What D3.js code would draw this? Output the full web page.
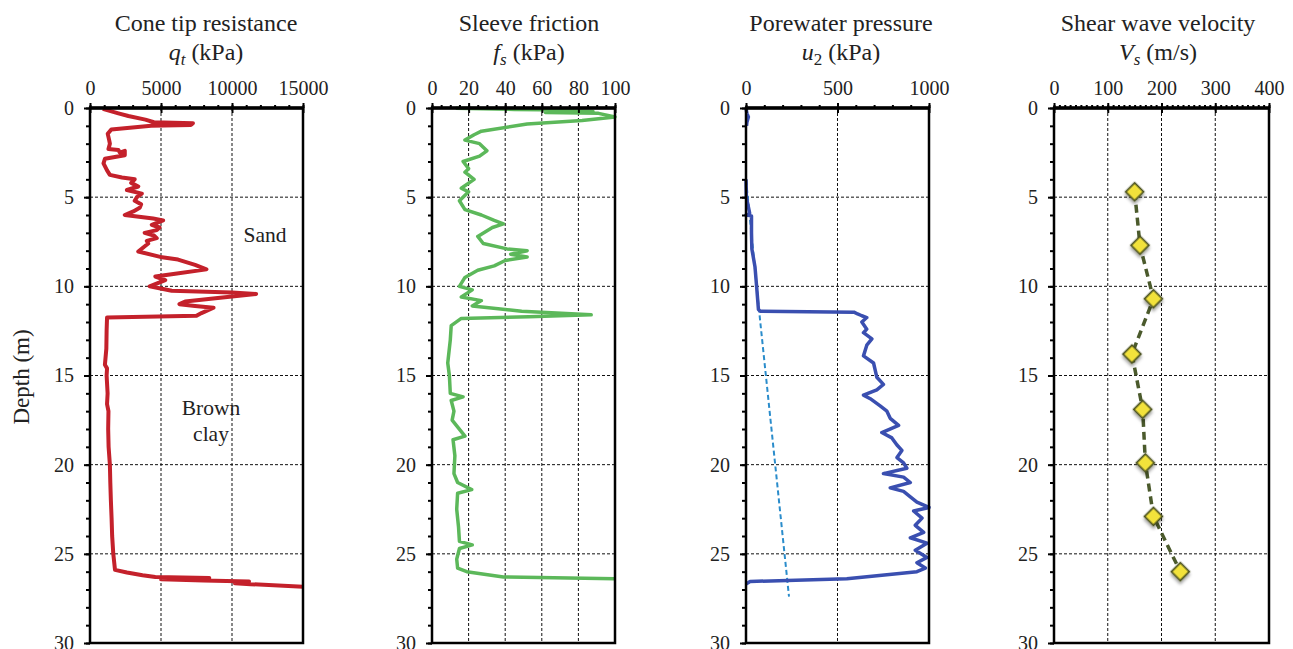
<!DOCTYPE html>
<html>
<head>
<meta charset="utf-8">
<script src="https://cdn.jsdelivr.net/npm/d3@7"></script>
<style>
  body { margin: 0; background: #fff; }
  svg { display: block; font-family: "Liberation Serif", "Times New Roman", serif; }
  .grid line { stroke: #111; stroke-width: 1; stroke-dasharray: 3,2; }
  .axis path, .axis line { stroke: #000; }
  .axis text { font-family: "Liberation Serif", "Times New Roman", serif; font-size: 20px; fill: #222; }
</style>
</head>
<body>
<svg id="chart" width="1293" height="649"></svg>
<script>
"use strict";

// depth (m), value pairs
var qtProfile = [
  [0.05, 900], [0.3, 2000], [0.45, 2700], [0.65, 3900], [0.8, 4500], [0.85, 7250], [0.95, 7100],
  [1.0, 4300], [1.2, 1500], [1.45, 1250], [1.8, 1350], [2.0, 1400], [2.3, 1300], [2.35, 2000],
  [2.5, 2100], [2.4, 2450], [2.65, 2450], [2.85, 1050], [3.1, 950], [3.5, 1200], [3.75, 1400],
  [3.9, 2250], [4.0, 3150], [4.2, 2900], [4.4, 3400], [4.6, 2600], [4.8, 3650], [5.0, 3300],
  [5.2, 3150], [5.4, 3600], [5.6, 3500], [5.8, 3050], [6.0, 2450], [6.2, 4450], [6.3, 5150],
  [6.55, 4350], [6.7, 4900], [6.85, 4700], [7.0, 3850], [7.15, 4500], [7.3, 4700], [7.45, 4000],
  [7.6, 4100], [8.05, 3400], [8.35, 4950], [8.5, 6200], [8.8, 7400], [9.05, 8200],
  [9.3, 6000], [9.45, 4600], [9.65, 5300], [10.0, 4200], [10.25, 5750], [10.35, 10000],
  [10.43, 11700], [10.65, 9000], [10.85, 6700], [11.0, 6300], [11.1, 7400], [11.2, 8700],
  [11.5, 7850], [11.65, 7500], [11.75, 1200], [12.5, 1170], [13.5, 1150], [14.4, 1050],
  [14.6, 1200], [15.0, 1170], [16.0, 1240], [16.6, 1200], [17.0, 1300], [18.0, 1280],
  [19.0, 1310], [20.0, 1400], [21.0, 1430], [22.0, 1470], [23.0, 1520], [24.0, 1560],
  [25.0, 1640], [25.9, 1760], [26.05, 2600], [26.2, 3700], [26.3, 4600], [26.35, 8400],
  [26.42, 5000], [26.5, 8000], [26.55, 11200], [26.65, 10200], [26.7, 11300], [26.85, 15000]
];

var fsProfile = [
  [0.02, 13], [0.08, 45], [0.1, 60], [0.2, 88], [0.25, 62], [0.3, 91], [0.5, 100], [0.7, 82],
  [0.9, 52], [1.3, 27], [1.5, 23], [1.8, 18], [2.0, 26], [2.4, 30], [2.7, 26], [3.0, 17],
  [3.4, 20], [3.6, 18], [4.0, 23], [4.5, 16], [4.7, 20], [5.2, 15], [5.7, 18], [6.0, 27],
  [6.3, 34], [6.5, 39], [6.7, 33], [7.2, 25], [7.6, 28], [7.9, 41], [8.0, 52], [8.2, 43],
  [8.35, 52], [8.55, 40], [8.85, 34], [9.1, 25], [9.5, 18], [10.0, 15], [10.2, 22], [10.6, 16],
  [10.8, 27], [11.1, 22], [11.4, 49], [11.6, 87], [11.7, 53], [11.8, 16], [12.2, 10.5],
  [13.0, 10], [14.3, 8.6], [15.0, 9.5], [16.0, 10], [16.2, 17], [16.4, 10.5], [17.0, 12],
  [17.5, 11], [18.4, 18], [18.6, 11.5], [19.5, 12.5], [20.5, 12], [21.0, 14], [21.4, 21.7],
  [21.6, 14], [22.5, 13.5], [23.5, 14.5], [24.3, 15], [24.5, 22], [24.7, 15], [25.3, 13.5],
  [25.8, 14], [26.0, 19], [26.3, 39], [26.4, 100]
];

// measured u2; null marks where the trace is hidden under the hydrostatic line
var u2Profile = [
  [0, 0], [0.3, 5], [0.5, 13], [0.8, 5], [1.0, 3], [1.1, null], [4.0, 0], [5.0, 2], [5.9, 20],
  [6.0, 0], [6.05, 30], [7.0, 30], [7.9, 32], [8.9, 49], [10.0, 58], [11.3, 68], [11.4, 78],
  [11.45, 590], [11.55, 610], [11.65, 633], [11.75, 660], [12.0, 633], [12.4, 660], [12.6, 642],
  [12.95, 688], [13.3, 660], [13.9, 642], [14.3, 697], [14.7, 706], [15.1, 715], [15.5, 751],
  [15.8, 715], [16.1, 642], [16.3, 679], [16.7, 733], [17.0, 770], [17.4, 788], [17.8, 834],
  [18.2, 742], [18.5, 797], [18.9, 825], [19.2, 852], [19.6, 825], [19.9, 861], [20.2, 879],
  [20.5, 751], [20.7, 861], [21.0, 898], [21.3, 788], [21.5, 861], [21.8, 898], [22.1, 934],
  [22.4, 1000], [22.6, 916], [23.0, 962], [23.4, 925], [23.8, 971], [24.1, 898], [24.4, 989],
  [24.8, 925], [25.2, 989], [25.5, 934], [25.8, 980], [26.0, 934], [26.4, 551], [26.55, 22],
  [26.7, 0]
];

var u0Profile = [[0, 0], [4.0, 0], [11.9, 77], [27.4, 235]];

var vsDepth = [4.7, 7.7, 10.7, 13.8, 16.9, 19.9, 22.9, 26.0];
var vsValues = [150, 160, 185, 145, 165, 170, 185, 235];

var depthTicks = [0, 5, 10, 15, 20, 25, 30];
var qtTicks = [0, 5000, 10000, 15000];
var fsTicks = [0, 20, 40, 60, 80, 100];
var u2Ticks = [0, 500, 1000];
var vsTicks = [0, 100, 200, 300, 400];

var svg = d3.select("#chart");

var defs = svg.append("defs");
var shadow = defs.append("filter").attr("id", "shadow")
  .attr("x", "-50%").attr("y", "-50%").attr("width", "200%").attr("height", "200%");
shadow.append("feDropShadow").attr("dx", 2).attr("dy", 2).attr("stdDeviation", 1.5)
  .attr("flood-color", "#000").attr("flood-opacity", 0.35);

var y = d3.scaleLinear().domain([0, 30]).range([108, 643]);

var panels = [
  { left: 90, right: 303, max: 15000, ticks: qtTicks, minor: 1000, titleX: 206,
    title: "Cone tip resistance", sym: "q", sub: "t", subItalic: true, unit: " (kPa)" },
  { left: 432, right: 615, max: 100, ticks: fsTicks, minor: 5, titleX: 529,
    title: "Sleeve friction", sym: "f", sub: "s", subItalic: true, unit: " (kPa)" },
  { left: 746, right: 929, max: 1000, ticks: u2Ticks, minor: 100, titleX: 841,
    title: "Porewater pressure", sym: "u", sub: "2", subItalic: false, unit: " (kPa)" },
  { left: 1054, right: 1269, max: 400, ticks: vsTicks, minor: 10, titleX: 1158,
    title: "Shear wave velocity", sym: "V", sub: "s", subItalic: true, unit: " (m/s)" }
];

panels.forEach(function(p) {
  p.x = d3.scaleLinear().domain([0, p.max]).range([p.left, p.right]);
  var g = svg.append("g");

  // gridlines
  var grid = g.append("g").attr("class", "grid");
  grid.selectAll("line.v")
    .data(p.ticks.slice(1, -1))
    .enter().append("line")
    .attr("x1", function(d) { return p.x(d); })
    .attr("x2", function(d) { return p.x(d); })
    .attr("y1", y(0)).attr("y2", y(30));
  grid.selectAll("line.h")
    .data(depthTicks.slice(1, -1))
    .enter().append("line")
    .attr("x1", p.left).attr("x2", p.right)
    .attr("y1", function(d) { return y(d); })
    .attr("y2", function(d) { return y(d); });

  p.g = g;
});

function profileLine(p) {
  return d3.line()
    .defined(function(d) { return d[1] != null; })
    .x(function(d) { return p.x(d[1]); })
    .y(function(d) { return y(d[0]); });
}

// cone tip resistance
panels[0].g.append("path")
  .datum(qtProfile)
  .attr("d", profileLine(panels[0]))
  .attr("fill", "none")
  .attr("stroke", "#c4212b")
  .attr("stroke-width", 4)
  .attr("stroke-linejoin", "round");

// sleeve friction
panels[1].g.append("path")
  .datum(fsProfile)
  .attr("d", profileLine(panels[1]))
  .attr("fill", "none")
  .attr("stroke", "#5cb85a")
  .attr("stroke-width", 3.5)
  .attr("stroke-linejoin", "round");

// porewater
panels[2].g.append("path")
  .datum(u0Profile)
  .attr("d", profileLine(panels[2]))
  .attr("fill", "none")
  .attr("stroke", "#2a8ccb")
  .attr("stroke-width", 2)
  .attr("stroke-dasharray", "5,3");

panels[2].g.append("path")
  .datum(u2Profile)
  .attr("d", profileLine(panels[2]))
  .attr("fill", "none")
  .attr("stroke", "#3a4fb0")
  .attr("stroke-width", 3.5)
  .attr("stroke-linejoin", "round");

// shear wave velocity
var vsData = vsDepth.map(function(d, i) { return [d, vsValues[i]]; });
panels[3].g.append("path")
  .datum(vsData)
  .attr("d", profileLine(panels[3]))
  .attr("fill", "none")
  .attr("stroke", "#4b5a2c")
  .attr("stroke-width", 3.5)
  .attr("stroke-dasharray", "8,5");

panels[3].g.selectAll("path.pt")
  .data(vsData)
  .enter().append("path")
  .attr("class", "pt")
  .attr("d", d3.symbol().type(d3.symbolSquare).size(160))
  .attr("transform", function(d) {
    return "translate(" + panels[3].x(d[1]) + "," + y(d[0]) + ") rotate(45)";
  })
  .attr("fill", "#f2e23a")
  .attr("stroke", "#4b5224")
  .attr("stroke-width", 1.8)
  .attr("filter", "url(#shadow)");

// axes, frame and titles
panels.forEach(function(p) {
  var g = p.g;

  var minorX = d3.range(0, p.max + 0.001, p.minor);
  g.append("g").attr("class", "axis")
    .attr("transform", "translate(0," + y(0) + ")")
    .call(d3.axisTop(p.x).tickValues(minorX).tickSize(3).tickFormat(""))
    .call(function(s) { s.select(".domain").remove(); s.selectAll("line").attr("stroke-width", 2); });

  g.append("g").attr("class", "axis")
    .attr("transform", "translate(0," + y(0) + ")")
    .call(d3.axisTop(p.x).tickValues(p.ticks).tickSize(5).tickPadding(8).tickFormat(d3.format("d")))
    .call(function(s) { s.select(".domain").remove(); s.selectAll("line").attr("stroke-width", 2); });

  g.append("g").attr("class", "axis")
    .attr("transform", "translate(0," + y(0) + ")")
    .call(d3.axisBottom(p.x).tickValues(p.ticks).tickSize(5).tickFormat(""))
    .call(function(s) { s.select(".domain").remove(); s.selectAll("line").attr("stroke-width", 2); });

  g.append("g").attr("class", "axis")
    .attr("transform", "translate(" + p.left + ",0)")
    .call(d3.axisLeft(y).tickValues(d3.range(0, 31, 1)).tickSize(4).tickFormat(""))
    .call(function(s) { s.select(".domain").remove(); s.selectAll("line").attr("stroke-width", 2); });

  g.append("g").attr("class", "axis")
    .attr("transform", "translate(" + p.left + ",0)")
    .call(d3.axisLeft(y).tickValues(depthTicks).tickSize(6).tickPadding(10))
    .call(function(s) { s.select(".domain").remove(); s.selectAll("line").attr("stroke-width", 2); });

  g.append("rect")
    .attr("x", p.left).attr("y", y(0))
    .attr("width", p.right - p.left).attr("height", y(30) - y(0))
    .attr("fill", "none")
    .attr("stroke", "#000")
    .attr("stroke-width", 2.5);
  g.append("line")
    .attr("x1", p.left - 1).attr("x2", p.right + 1)
    .attr("y1", y(0)).attr("y2", y(0))
    .attr("stroke", "#000").attr("stroke-width", 3.5);

  g.append("text")
    .attr("x", p.titleX).attr("y", 31)
    .attr("text-anchor", "middle")
    .attr("font-size", 24).attr("fill", "#222")
    .text(p.title);

  var t2 = g.append("text")
    .attr("x", p.titleX).attr("y", 60)
    .attr("text-anchor", "middle")
    .attr("font-size", 24).attr("fill", "#222");
  t2.append("tspan").attr("font-style", "italic").text(p.sym);
  t2.append("tspan").attr("font-style", p.subItalic ? "italic" : "normal")
    .attr("font-size", 17).attr("dy", 5).text(p.sub);
  t2.append("tspan").attr("dy", -5).text(p.unit);
});

// layer labels
svg.append("text").attr("x", 265).attr("y", 242)
  .attr("text-anchor", "middle").attr("font-size", 21.5).attr("fill", "#222").text("Sand");
svg.append("text").attr("x", 211).attr("y", 415)
  .attr("text-anchor", "middle").attr("font-size", 21.5).attr("fill", "#222").text("Brown");
svg.append("text").attr("x", 211).attr("y", 441)
  .attr("text-anchor", "middle").attr("font-size", 21.5).attr("fill", "#222").text("clay");

svg.append("text")
  .attr("transform", "translate(29,377) rotate(-90)")
  .attr("text-anchor", "middle")
  .attr("font-size", 23).attr("fill", "#222")
  .text("Depth (m)");
</script>
</body>
</html>
